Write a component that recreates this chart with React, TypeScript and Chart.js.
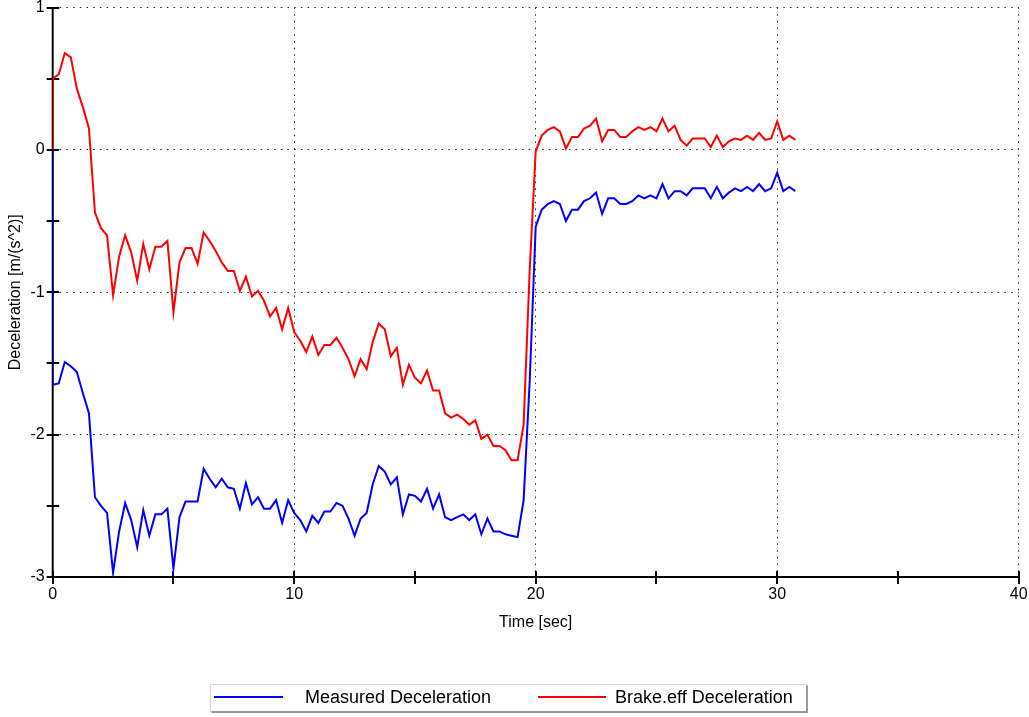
import { useEffect, useRef } from "react";
import { Chart, registerables } from "chart.js";

Chart.register(...registerables);

// Sample times [sec]; the first entry is the zero state logged before the first sample.
const timeSec = [
  0,
  0, 0.25, 0.5, 0.75, 1, 1.25, 1.5, 1.75, 2, 2.25, 2.5, 2.75, 3, 3.25, 3.5, 3.75, 4, 4.25, 4.5, 4.75,
  5, 5.25, 5.5, 5.75, 6, 6.25, 6.5, 6.75, 7, 7.25, 7.5, 7.75, 8, 8.25, 8.5, 8.75, 9, 9.25, 9.5, 9.75,
  10, 10.25, 10.5, 10.75, 11, 11.25, 11.5, 11.75, 12, 12.25, 12.5, 12.75, 13, 13.25, 13.5, 13.75, 14, 14.25, 14.5, 14.75,
  15, 15.25, 15.5, 15.75, 16, 16.25, 16.5, 16.75, 17, 17.25, 17.5, 17.75, 18, 18.25, 18.5, 18.75, 19, 19.25, 19.5, 19.75,
  20, 20.25, 20.5, 20.75, 21, 21.25, 21.5, 21.75, 22, 22.25, 22.5, 22.75, 23, 23.25, 23.5, 23.75, 24, 24.25, 24.5, 24.75,
  25, 25.25, 25.5, 25.75, 26, 26.25, 26.5, 26.75, 27, 27.25, 27.5, 27.75, 28, 28.25, 28.5, 28.75, 29, 29.25, 29.5, 29.75,
  30, 30.25, 30.5, 30.75,
];

// Measured deceleration [m/(s^2)]
const measuredDecel = [
  0,
  -1.65, -1.64, -1.49, -1.52, -1.56, -1.71, -1.85, -2.44, -2.5, -2.55, -2.97, -2.68, -2.48, -2.6, -2.79, -2.53, -2.71, -2.56, -2.56, -2.52,
  -2.94, -2.58, -2.47, -2.47, -2.47, -2.24, -2.31, -2.37, -2.31, -2.37, -2.38, -2.52, -2.34, -2.49, -2.44, -2.52, -2.52, -2.46, -2.62, -2.46,
  -2.55, -2.6, -2.68, -2.57, -2.62, -2.54, -2.54, -2.48, -2.5, -2.59, -2.71, -2.59, -2.55, -2.35, -2.22, -2.26, -2.35, -2.3, -2.56, -2.42,
  -2.43, -2.47, -2.38, -2.52, -2.42, -2.58, -2.6, -2.58, -2.56, -2.6, -2.56, -2.7, -2.59, -2.68, -2.68, -2.7, -2.71, -2.72, -2.46, -1.63,
  -0.54, -0.42, -0.38, -0.36, -0.38, -0.5, -0.42, -0.42, -0.36, -0.34, -0.3, -0.45, -0.34, -0.34, -0.38, -0.38, -0.36, -0.32, -0.34, -0.32,
  -0.34, -0.24, -0.34, -0.29, -0.29, -0.32, -0.27, -0.27, -0.27, -0.34, -0.26, -0.34, -0.3, -0.27, -0.29, -0.26, -0.29, -0.24, -0.29, -0.27,
  -0.16, -0.29, -0.26, -0.29,
];

// Brake.eff deceleration [m/(s^2)]
const brakeEffDecel = [
  0,
  0.5, 0.53, 0.68, 0.65, 0.43, 0.3, 0.15, -0.44, -0.55, -0.6, -1.02, -0.75, -0.6, -0.72, -0.92, -0.66, -0.84, -0.68, -0.68, -0.64,
  -1.14, -0.79, -0.69, -0.69, -0.8, -0.58, -0.64, -0.71, -0.79, -0.85, -0.85, -0.99, -0.89, -1.03, -0.99, -1.06, -1.17, -1.11, -1.26, -1.11,
  -1.28, -1.34, -1.42, -1.31, -1.44, -1.37, -1.37, -1.32, -1.39, -1.47, -1.59, -1.47, -1.54, -1.35, -1.22, -1.26, -1.45, -1.39, -1.65, -1.51,
  -1.6, -1.64, -1.55, -1.69, -1.69, -1.85, -1.88, -1.86, -1.89, -1.93, -1.9, -2.03, -2.0, -2.08, -2.08, -2.11, -2.18, -2.18, -1.93, -0.85,
  -0.01, 0.1, 0.14, 0.16, 0.13, 0.01, 0.09, 0.09, 0.15, 0.17, 0.22, 0.06, 0.14, 0.14, 0.09, 0.09, 0.13, 0.16, 0.14, 0.16,
  0.13, 0.22, 0.13, 0.17, 0.07, 0.03, 0.08, 0.08, 0.08, 0.02, 0.1, 0.02, 0.06, 0.08, 0.07, 0.1, 0.07, 0.12, 0.07, 0.08,
  0.2, 0.07, 0.1, 0.07,
];

const seriesLabels = ["Measured Deceleration", "Brake.eff Deceleration"];
const seriesColors = ["#0000ff", "#ff0000"];

// Axis ranges: ticks every 5 s / 0.5 units, labels and grid on every 10 s / 1 unit.
const xRange = { min: 0, max: 40, step: 5, labelEvery: 10 };
const yRange = { min: -3, max: 1, step: 0.5, labelEvery: 1 };

const FONT = '"Liberation Sans", Arial, sans-serif';

const isMultiple = (v: number, m: number) => Math.abs(v / m - Math.round(v / m)) < 1e-6;

// Solid axis lines with tick marks crossing them, drawn beneath the data lines.
const axesFrame = {
  id: "axesFrame",
  beforeDatasetsDraw(chart: any) {
    const { ctx, chartArea, scales } = chart;
    const { left, right, top, bottom } = chartArea;
    ctx.save();
    ctx.strokeStyle = "#000";
    ctx.lineWidth = 2;
    ctx.beginPath();
    ctx.moveTo(left, top);
    ctx.lineTo(left, bottom);
    ctx.moveTo(left, bottom);
    ctx.lineTo(right, bottom);
    for (const t of scales.y.ticks) {
      const py = Math.round(scales.y.getPixelForValue(t.value));
      ctx.moveTo(left - 6, py);
      ctx.lineTo(left + 6.5, py);
    }
    for (const t of scales.x.ticks) {
      const px = Math.round(scales.x.getPixelForValue(t.value));
      ctx.moveTo(px, bottom - 6);
      ctx.lineTo(px, bottom + 7);
    }
    ctx.stroke();
    ctx.restore();
  },
};

// Framed legend strip under the axis title.
const boxLegend = {
  id: "boxLegend",
  afterDraw(chart: any) {
    const { ctx } = chart;
    const box = { x: 210.5, y: 684.5, w: 596, h: 27 };
    const entries = [
      { x0: 214, x1: 283, tx: 305 },
      { x0: 538, x1: 606, tx: 615 },
    ];
    const cy = box.y + box.h / 2;
    ctx.save();
    ctx.fillStyle = "#fff";
    ctx.fillRect(box.x, box.y, box.w, box.h);
    ctx.strokeStyle = "#d6d6d6";
    ctx.lineWidth = 1;
    ctx.strokeRect(box.x, box.y, box.w, box.h);
    ctx.strokeStyle = "#9a9a9a";
    ctx.lineWidth = 2;
    ctx.beginPath();
    ctx.moveTo(box.x + 1, box.y + box.h + 0.5);
    ctx.lineTo(box.x + box.w + 0.5, box.y + box.h + 0.5);
    ctx.lineTo(box.x + box.w + 0.5, box.y + 1);
    ctx.stroke();
    chart.data.datasets.forEach((ds: any, i: number) => {
      const e = entries[i];
      ctx.strokeStyle = ds.borderColor;
      ctx.lineWidth = 2;
      ctx.beginPath();
      ctx.moveTo(e.x0, cy - 1);
      ctx.lineTo(e.x1, cy - 1);
      ctx.stroke();
      ctx.fillStyle = "#000";
      ctx.font = `18px ${FONT}`;
      ctx.textAlign = "left";
      ctx.textBaseline = "middle";
      ctx.fillText(ds.label, e.tx, cy + 0.5);
    });
    ctx.restore();
  },
};

export default function App() {
  const canvasRef = useRef<HTMLCanvasElement | null>(null);

  useEffect(() => {
    const canvas = canvasRef.current;
    if (!canvas) return;
    const series = [measuredDecel, brakeEffDecel];
    const chart = new Chart(canvas, {
      type: "line",
      data: {
        datasets: series.map((values, i) => ({
          label: seriesLabels[i],
          data: timeSec.map((t, k) => ({ x: t, y: values[k] })),
          borderColor: seriesColors[i],
          backgroundColor: seriesColors[i],
          borderWidth: 2,
          pointRadius: 0,
          tension: 0,
          fill: false,
        })),
      },
      options: {
        responsive: false,
        animation: false,
        devicePixelRatio: 1,
        layout: { padding: { left: 0, top: 7.5, right: 10.3, bottom: 85 } },
        plugins: {
          legend: { display: false },
          tooltip: { enabled: false },
        },
        scales: {
          x: {
            type: "linear",
            min: xRange.min,
            max: xRange.max,
            afterFit: (scale: any) => {
              scale.height = 55;
              scale.paddingLeft = 0;
              scale.paddingRight = 0;
            },
            ticks: {
              stepSize: xRange.step,
              padding: 8,
              color: "#000",
              font: { family: FONT, size: 16 },
              maxRotation: 0,
              callback: (v: any) => (isMultiple(Number(v), xRange.labelEvery) ? String(v) : ""),
            },
            grid: {
              drawTicks: false,
              lineWidth: 1,
              color: (c: any) =>
                c.tick && isMultiple(c.tick.value, xRange.labelEvery) ? "#222" : "rgba(0,0,0,0)",
            },
            border: { display: false, dash: [1.5, 5.2] },
            title: {
              display: true,
              text: "Time [sec]",
              color: "#000",
              font: { family: FONT, size: 16 },
              padding: 0,
            },
          },
          y: {
            type: "linear",
            min: yRange.min,
            max: yRange.max,
            afterFit: (scale: any) => {
              scale.width = 52.7;
              scale.paddingTop = 0;
              scale.paddingBottom = 0;
            },
            ticks: {
              stepSize: yRange.step,
              padding: 8,
              color: "#000",
              font: { family: FONT, size: 16 },
              callback: (v: any) => (isMultiple(Number(v), yRange.labelEvery) ? String(v) : ""),
            },
            grid: {
              drawTicks: false,
              lineWidth: 1,
              color: (c: any) =>
                c.tick && isMultiple(c.tick.value, yRange.labelEvery) ? "#222" : "rgba(0,0,0,0)",
            },
            border: { display: false, dash: [1.5, 5.2] },
            title: {
              display: true,
              text: "Deceleration [m/(s^2)]",
              color: "#000",
              font: { family: FONT, size: 16 },
              padding: { top: 6, bottom: 0 },
            },
          },
        },
      },
      plugins: [axesFrame, boxLegend],
    });
    return () => chart.destroy();
  }, []);

  return (
    <div style={{ position: "absolute", left: 0, top: 0, width: 1029, height: 717, background: "#fff" }}>
      <canvas ref={canvasRef} width={1029} height={717} />
    </div>
  );
}
